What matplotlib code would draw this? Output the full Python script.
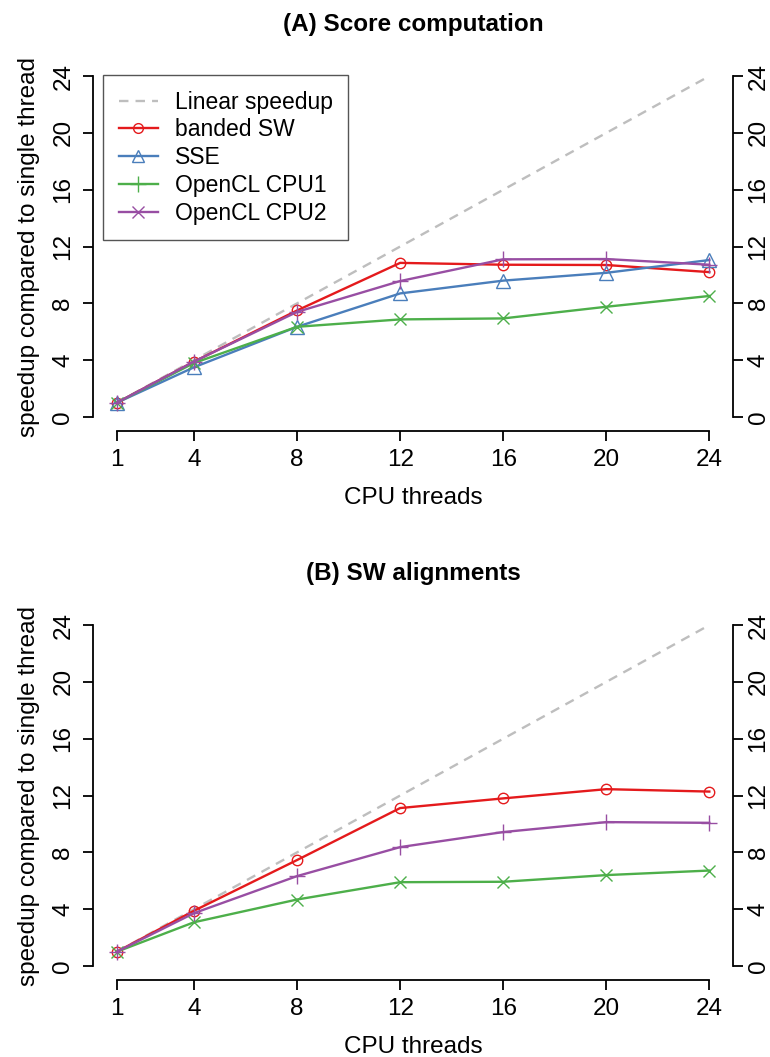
import numpy as np
import matplotlib
matplotlib.use("Agg")
import matplotlib.pyplot as plt
from matplotlib.lines import Line2D

plt.rcParams['font.family'] = ['Liberation Sans', 'DejaVu Sans']

threads = [1, 4, 8, 12, 16, 20, 24]
tick_labels = ['1', '4', '8', '12', '16', '20', '24']

# (A) score computation
a_banded = [1.0, 3.9, 7.5, 10.85, 10.72, 10.7, 10.2]
a_sse = [1.0, 3.5, 6.35, 8.7, 9.6, 10.15, 11.05]
a_cpu1 = [1.0, 3.8, 6.35, 6.87, 6.94, 7.76, 8.52]
a_cpu2 = [1.0, 3.9, 7.4, 9.57, 11.1, 11.12, 10.72]

# (B) SW alignments
b_banded = [1.0, 3.89, 7.46, 11.12, 11.8, 12.45, 12.28]
b_cpu1 = [1.0, 3.08, 4.68, 5.9, 5.93, 6.4, 6.72]
b_cpu2 = [1.0, 3.72, 6.33, 8.37, 9.43, 10.13, 10.08]

RED = '#E41A1C'
BLUE = '#4A7EBB'
GREEN = '#4DAF4A'
PURPLE = '#984EA3'
GRAY = '#BEBEBE'

FS = 17.5
LW = 1.7
YLIM = (-0.96, 24.96)


def style_axes(ax, title):
    ax.set_xlim(0.08, 24.92)
    ax.set_ylim(*YLIM)
    ax.spines['top'].set_visible(False)
    ax.spines['right'].set_visible(False)
    ax.spines['left'].set_bounds(0, 24)
    ax.spines['bottom'].set_bounds(1, 24)
    for s in ax.spines.values():
        s.set_linewidth(1.3)
    ax.set_xticks(threads)
    ax.set_xticklabels(tick_labels)
    ax.set_yticks(range(0, 25, 4))
    ax.tick_params(axis='both', length=7.5, width=1.3, labelsize=FS)
    ax.tick_params(axis='x', pad=6)
    ax.tick_params(axis='y', pad=6)
    for lab in ax.get_yticklabels():
        lab.set_rotation(90)
        lab.set_va('center')
    ax.set_xlabel('CPU threads', fontsize=FS, labelpad=11)
    ax.set_ylabel('speedup compared to single thread', fontsize=FS, labelpad=9)
    ax.set_title(title, fontsize=FS, fontweight='bold', pad=23)

    # right-hand axis with the same scale
    axr = ax.twinx()
    axr.set_ylim(*YLIM)
    for side in ['top', 'left', 'bottom']:
        axr.spines[side].set_visible(False)
    axr.spines['right'].set_bounds(0, 24)
    axr.spines['right'].set_linewidth(1.3)
    axr.set_yticks(range(0, 25, 4))
    axr.tick_params(axis='y', length=7.5, width=1.3, labelsize=FS, pad=3)
    for lab in axr.get_yticklabels():
        lab.set_rotation(90)
        lab.set_va('center')


def draw(ax, ys, color, marker, ms, mew=1.0):
    ax.plot(threads, ys, color=color, lw=LW, marker=marker, ms=ms,
            mfc='none', mec=color, mew=mew)


fig = plt.figure(figsize=(7.7, 10.57), dpi=100)
ax1 = fig.add_axes([0.1208, 0.5926, 0.8312, 0.3483])
ax2 = fig.add_axes([0.1208, 0.0732, 0.8312, 0.3483])

# panel A
ax1.plot([1, 24], [1, 24], color=GRAY, lw=LW, ls=(0, (4, 3)))
draw(ax1, a_banded, RED, 'o', 7.5)
draw(ax1, a_sse, BLUE, '^', 9.5)
draw(ax1, a_cpu1, GREEN, 'x', 8)
draw(ax1, a_cpu2, PURPLE, '+', 11)

handles = [
    Line2D([], [], color=GRAY, lw=LW, ls=(0, (4, 3))),
    Line2D([], [], color=RED, lw=LW, marker='o', ms=7, mfc='none'),
    Line2D([], [], color=BLUE, lw=LW, marker='^', ms=9, mfc='none'),
    Line2D([], [], color=GREEN, lw=LW, marker='+', ms=11),
    Line2D([], [], color=PURPLE, lw=LW, marker='x', ms=8),
]
labels = ['Linear speedup', 'banded SW', 'SSE', 'OpenCL CPU1', 'OpenCL CPU2']
leg = ax1.legend(handles, labels, loc='upper left', bbox_to_anchor=(0.0156, 0.966),
                 fontsize=16.5, fancybox=False, framealpha=1, edgecolor='#555555',
                 borderpad=0.68, labelspacing=0.21, handlelength=1.7,
                 handletextpad=0.75, borderaxespad=0)
leg.get_frame().set_linewidth(1.0)
style_axes(ax1, '(A) Score computation')

# panel B
ax2.plot([1, 24], [1, 24], color=GRAY, lw=LW, ls=(0, (4, 3)))
draw(ax2, b_banded, RED, 'o', 7.5)
draw(ax2, b_cpu1, GREEN, 'x', 8)
draw(ax2, b_cpu2, PURPLE, '+', 11)
style_axes(ax2, '(B) SW alignments')

fig.savefig('out.png', dpi=100)
